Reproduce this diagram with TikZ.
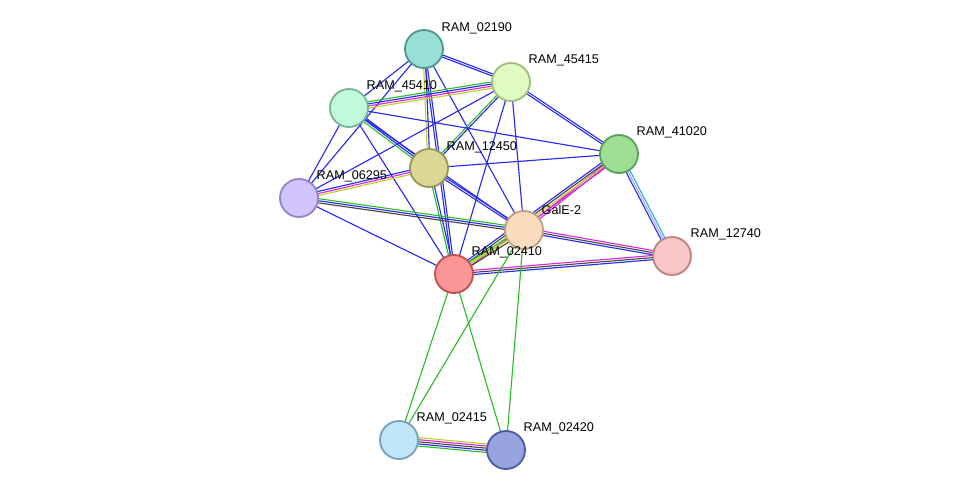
\documentclass[tikz,border=0pt]{standalone}
\usepackage{fontspec}
\setmainfont{Liberation Sans}
\usetikzlibrary{calc}
\definecolor{eblue}{RGB}{40,40,240}
\definecolor{egreen}{RGB}{40,190,40}
\definecolor{emag}{RGB}{220,40,220}
\definecolor{eyel}{RGB}{190,210,40}
\definecolor{eblack}{RGB}{70,70,70}
\definecolor{ecyan}{RGB}{40,180,220}
\definecolor{elav}{RGB}{170,170,250}
\tikzset{
  prot/.style={circle, minimum size=0.95cm, line width=1.3pt, inner sep=0pt},
  lbl/.style={font=\fontsize{9}{10}\selectfont, anchor=south west, inner sep=1pt},
  edge/.style={line width=0.8pt}
}
% bundle of parallel lines: #1, #2 nodes, #3 number of lines, #4 colours
\newcommand\bund[4]{%
  \foreach \c [count=\i] in {#4}{%
    \pgfmathsetmacro\o{(\i-1-(#3-1)/2)*1.5}
    \draw[edge,\c] ($(#1)!\o pt!90:(#2)$) -- ($(#2)!\o pt!-90:(#1)$);}}
\begin{document}
\begin{tikzpicture}[x=0.025cm,y=-0.025cm]
\useasboundingbox (0,0) rectangle (976,496);
\coordinate (c02190) at (424,49);
\coordinate (c45415) at (511,82);
\coordinate (c45410) at (349,108);
\coordinate (c41020) at (619,154);
\coordinate (c12450) at (429,168);
\coordinate (c06295) at (299,198);
\coordinate (cGalE) at (524,230);
\coordinate (c12740) at (672,256);
\coordinate (c02410) at (454,274);
\coordinate (c02415) at (399,440);
\coordinate (c02420) at (506,450);
% edges
\bund{c02190}{c45410}{1}{eblue}
\bund{c02190}{c06295}{1}{eblue}
\bund{c02190}{c45415}{2}{eblue,eblue}
\bund{c02190}{c12450}{2}{eyel,eblue}
\bund{c02190}{c02410}{2}{eblue,eblue}
\bund{c02190}{cGalE}{1}{eblue}
\bund{c45415}{c45410}{4}{egreen,eblue,emag,eyel}
\bund{c45415}{c12450}{2}{egreen,eblue}
\bund{c45415}{c06295}{1}{eblue}
\bund{c45415}{c41020}{2}{eblue,eblue}
\bund{c45415}{cGalE}{1}{eblue}
\bund{c45415}{c02410}{1}{eblue}
\bund{c45410}{c41020}{1}{eblue}
\bund{c45410}{c12450}{3}{egreen,eblue,eblue}
\bund{c45410}{cGalE}{1}{eblue}
\bund{c45410}{c06295}{1}{eblue}
\bund{c45410}{c02410}{1}{eblue}
\bund{c12450}{c41020}{1}{eblue}
\bund{c12450}{c06295}{3}{eblue,emag,eyel}
\bund{c12450}{cGalE}{2}{eblue,eblue}
\bund{c12450}{c02410}{2}{egreen,eblue}
\bund{c06295}{cGalE}{3}{eblack,eblue,egreen}
\bund{c06295}{c02410}{1}{eblue}
\bund{c41020}{cGalE}{2}{emag,emag}
\bund{c41020}{c02410}{4}{eblue,eblack,eyel,emag}
\bund{c41020}{c12740}{3}{eblue,elav,ecyan}
\bund{cGalE}{c12740}{3}{eblue,eblack,emag}
\bund{c02410}{c12740}{3}{eblue,eblack,emag}
\bund{c02410}{cGalE}{3}{eblack,eyel,egreen}
\bund{c02410}{c02415}{1}{egreen}
\bund{c02410}{c02420}{1}{egreen}
\bund{cGalE}{c02415}{1}{egreen}
\bund{cGalE}{c02420}{1}{egreen}
\bund{c02415}{c02420}{5}{egreen,eblue,eblack,emag,eyel}
% proteins
\node[prot, fill={rgb,255:red,152;green,224;blue,214}, draw={rgb,255:red,80;green,150;blue,140}] (n02190) at (c02190) {};
\node[prot, fill={rgb,255:red,224;green,250;blue,196}, draw={rgb,255:red,160;green,190;blue,120}] (n45415) at (c45415) {};
\node[prot, fill={rgb,255:red,192;green,250;blue,218}, draw={rgb,255:red,120;green,180;blue,150}] (n45410) at (c45410) {};
\node[prot, fill={rgb,255:red,158;green,222;blue,146}, draw={rgb,255:red,90;green,160;blue,90}] (n41020) at (c41020) {};
\node[prot, fill={rgb,255:red,218;green,216;blue,148}, draw={rgb,255:red,150;green,150;blue,90}] (n12450) at (c12450) {};
\node[prot, fill={rgb,255:red,210;green,196;blue,252}, draw={rgb,255:red,150;green,130;blue,200}] (n06295) at (c06295) {};
\node[prot, fill={rgb,255:red,252;green,220;blue,190}, draw={rgb,255:red,190;green,160;blue,130}] (nGalE) at (cGalE) {};
\node[prot, fill={rgb,255:red,248;green,198;blue,198}, draw={rgb,255:red,190;green,130;blue,130}] (n12740) at (c12740) {};
\node[prot, fill={rgb,255:red,252;green,150;blue,150}, draw={rgb,255:red,190;green,80;blue,80}] (n02410) at (c02410) {};
\node[prot, fill={rgb,255:red,192;green,230;blue,250}, draw={rgb,255:red,120;green,160;blue,190}] (n02415) at (c02415) {};
\node[prot, fill={rgb,255:red,152;green,164;blue,224}, draw={rgb,255:red,80;green,90;blue,160}] (n02420) at (c02420) {};
% labels
\node[lbl] at (440,36) {RAM\_02190};
\node[lbl] at (527,68) {RAM\_45415};
\node[lbl] at (365,94) {RAM\_45410};
\node[lbl] at (635,140) {RAM\_41020};
\node[lbl] at (445,155) {RAM\_12450};
\node[lbl] at (315,184) {RAM\_06295};
\node[lbl] at (540,216) {GalE-2};
\node[lbl] at (689,242) {RAM\_12740};
\node[lbl] at (470,260) {RAM\_02410};
\node[lbl] at (415,426) {RAM\_02415};
\node[lbl] at (522,436) {RAM\_02420};
\end{tikzpicture}
\end{document}
